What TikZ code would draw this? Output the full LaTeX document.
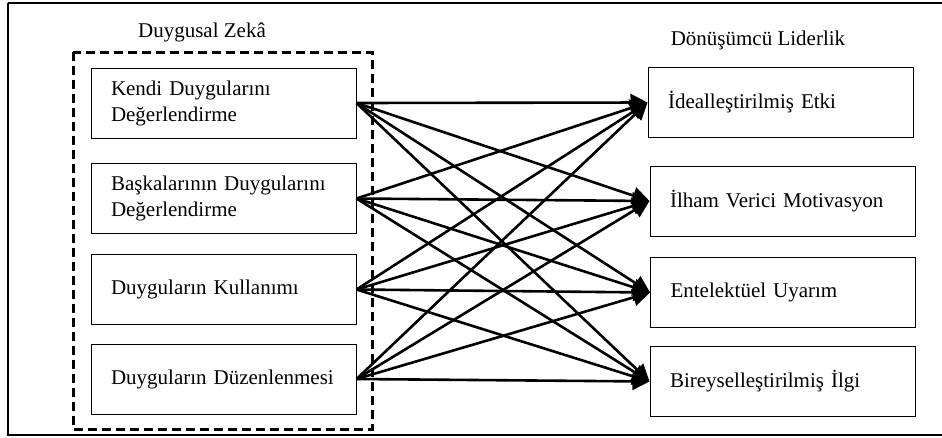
\documentclass[tikz,border=0pt]{standalone}
\usepackage{fontspec}
\setmainfont{Liberation Serif}
\usetikzlibrary{arrows.meta}
\begin{document}
\begin{tikzpicture}[x=1pt,y=-1pt,
  lbox/.style={draw,line width=1pt,minimum width=265pt,minimum height=70pt,
    text width=225pt,inner xsep=20pt,align=left,font=\fontsize{21}{26}\selectfont},
  ttl/.style={font=\fontsize{21}{26}\selectfont,anchor=base},
  conn/.style={line width=2.6pt,-{Triangle[length=17pt,width=17pt]}}]
\useasboundingbox (0,0) rectangle (942,437);
\draw[line width=1.5pt] (8,3) -- (950,3) (8,3) -- (8,435) -- (950,435);
\draw[line width=3pt,dash pattern=on 9pt off 5pt] (73,52) rectangle (372,429);
\node[ttl] (t1) at (202,37) {Duygusal Zekâ};
\node[ttl] (t2) at (758,45) {Dönüşümcü Liderlik};
\node[lbox] (l1) at (223.5,103) {Kendi Duygularını\\Değerlendirme};
\node[lbox] (l2) at (223.5,198.5) {Başkalarının Duygularını\\Değerlendirme};
\node[lbox] (l3) at (223.5,289.5) {Duyguların Kullanımı};
\node[lbox] (l4) at (223.5,379) {Duyguların Düzenlenmesi};
\node[lbox] (r1) at (780.5,102.5) {İdealleştirilmiş Etki};
\node[lbox] (r2) at (782.5,201) {İlham Verici Motivasyon};
\node[lbox] (r3) at (783,292.5) {Entelektüel Uyarım};
\node[lbox] (r4) at (782.5,381.5) {Bireyselleştirilmiş İlgi};
\foreach \i in {1,2,3,4}{
  \foreach \j in {1,2,3,4}{
    \draw[conn] (l\i.east) -- (r\j.west);
  }
}
\end{tikzpicture}
\end{document}
